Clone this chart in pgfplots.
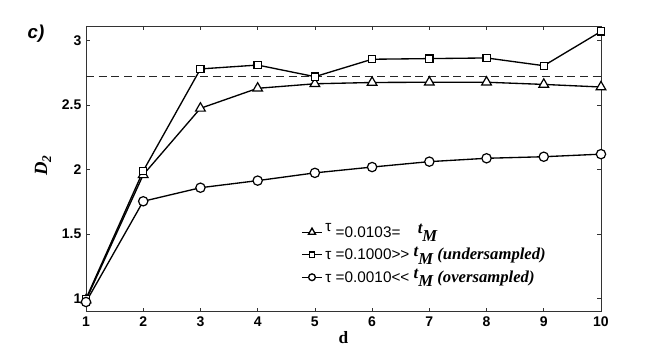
\documentclass[border=0pt]{standalone}
\usepackage{fontspec}
\setmainfont{Liberation Serif}
\setsansfont{Liberation Sans}
\usepackage{pgfplots}
\pgfplotsset{compat=1.18}

% legend helper for the t_M parts
\newcommand{\tM}{{\rmfamily\bfseries\itshape\fontsize{12.5}{12.5}\selectfont\raisebox{2.5pt}{t}\raisebox{-3.5pt}{M}}}
\newcommand{\bi}[1]{{\rmfamily\bfseries\itshape\fontsize{12.5}{12.5}\selectfont #1}}

\begin{document}
\begin{tikzpicture}
\path[use as bounding box] (0,0) rectangle (498pt,263.25pt);
\begin{axis}[
    at={(64.5pt,29.5pt)}, anchor=south west,
    scale only axis,
    width=386.25pt, height=214.3pt,
    xmin=1, xmax=10, ymin=0.9, ymax=3.113,
    xtick={1,...,10},
    ytick={1,1.5,2,2.5,3},
    tick align=inside,
    major tick length=3pt,
    axis line style={black!80, line width=0.6pt},
    every tick/.style={black!80, line width=0.5pt},
    tick label style={font=\sffamily\bfseries\fontsize{10.5}{10.5}\selectfont},
    /pgf/number format/assume math mode=true,
    clip=false,
    xlabel={\rmfamily\bfseries\fontsize{13}{13}\selectfont d},
    xlabel style={at={(axis description cs:0.5,-0.092)}, anchor=center},
    legend style={draw=none, fill=none, inner sep=0pt, at={(0.4175,0.313)}, anchor=north west,
        font=\sffamily\fontsize{11.5}{11.5}\selectfont, row sep=2.4pt, column sep=0pt,
        cells={anchor=west, inner xsep=1.5pt, inner ysep=0pt, text height=9pt, text depth=4pt}},
    legend image code/.code={
        \draw[#1, mark options={fill=white, scale=0.72}, mark repeat=2, mark phase=2]
        plot coordinates {(0cm,0cm) (0.265cm,0cm) (0.53cm,0cm)};},
    every axis plot/.append style={black, line width=1pt},
]
\addplot[mark=triangle*, mark size=4.2pt, mark options={fill=white, line width=0.9pt}] coordinates {
    (1,0.99) (2,1.96) (3,2.475) (4,2.63) (5,2.665) (6,2.675)
    (7,2.677) (8,2.677) (9,2.66) (10,2.64)
};
\addlegendentry{\raisebox{4pt}{τ} =0.0103=\hspace{13pt}\tM}

\addplot[mark=square*, mark size=2.7pt, mark options={fill=white, line width=0.9pt}] coordinates {
    (1,1.0) (2,1.99) (3,2.78) (4,2.81) (5,2.72) (6,2.855)
    (7,2.86) (8,2.865) (9,2.805) (10,3.07)
};
\addlegendentry{τ =0.1000>\kern0pt> \tM\ \bi{(undersampled)}}

\addplot[mark=*, mark size=3.5pt, mark options={fill=white, line width=0.9pt}] coordinates {
    (1,0.975) (2,1.755) (3,1.86) (4,1.915) (5,1.975) (6,2.02)
    (7,2.062) (8,2.088) (9,2.10) (10,2.12)
};
\addlegendentry{τ =0.0010<\kern0pt< \tM\ \bi{(oversampled)}}

% dashed reference level
\addplot[black!85, line width=1pt, dash pattern=on 6pt off 3.5pt, forget plot] coordinates {(1,2.723) (10,2.723)};

\node[font=\sffamily\bfseries\itshape\fontsize{14}{14}\selectfont] at (axis description cs:-0.097,0.972) {c)};
\end{axis}
% rotated y label, placed by hand
\node[rotate=90, font=\rmfamily\bfseries\itshape\fontsize{14}{14}\selectfont] at (32.25pt,139pt) {D\raisebox{-3pt}{\fontsize{10}{10}\selectfont 2}};
\end{tikzpicture}
\end{document}
